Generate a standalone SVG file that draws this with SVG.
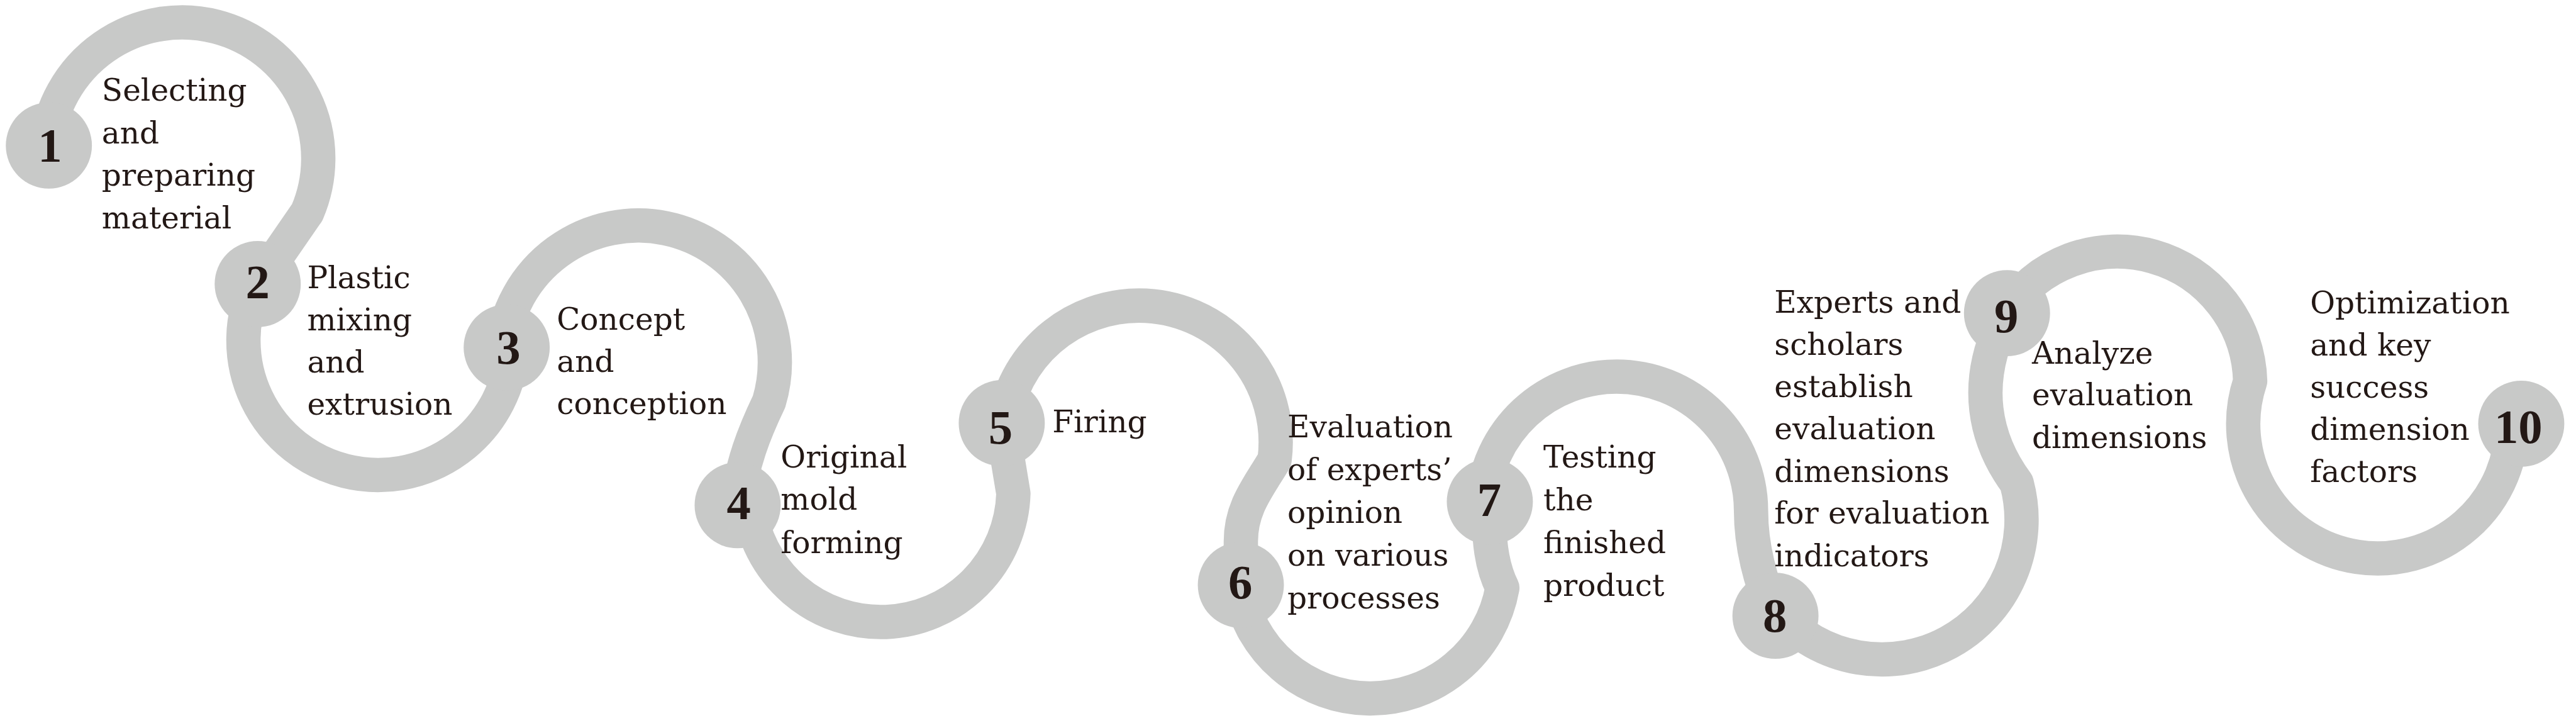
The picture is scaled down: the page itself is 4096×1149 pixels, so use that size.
<svg xmlns="http://www.w3.org/2000/svg" width="4096" height="1149" viewBox="0 0 4096 1149">
<style>
.link{fill:none;stroke:#c8c9c8;stroke-width:59;stroke-linejoin:round}
.dot{fill:#c8c9c8}
.num{font-family:"Liberation Serif","Times New Roman",serif;font-weight:bold;font-size:83px;fill:#231815;text-anchor:middle}
.lbl{font-family:"DejaVu Serif","Liberation Serif",serif;font-size:52.5px;fill:#231815}
</style>
<rect width="4096" height="1149" fill="#ffffff"/>
<g transform="scale(0.925)">
<g id="connectors">
<path id="c1-2" class="link" d="M84 250 L80.2 249.8 A234 234 0 1 1 528 365 L443 488"/>
<path id="c2-3" class="link" d="M443 488 L440.2 486.7 A231.5 231.5 0 1 0 881.1 597.4 L871 597"/>
<path id="c3-4" class="link" d="M871 597 L863.4 596.2 A235 235 0 1 1 1322 690 C1298 740 1273 800 1268 868"/>
<path id="c4-5" class="link" d="M1268 868 L1287.5 865.8 A228 228 0 0 0 1742 848 L1722 727"/>
<path id="c5-6" class="link" d="M1722 727 L1725.3 727.3 A235 235 0 0 1 1958 525 A235 235 0 0 1 2191 790 C2165 835 2133 870 2133 930 L2133 1005"/>
<path id="c6-7" class="link" d="M2133 1005 L2128.8 1005.6 A230 230 0 0 0 2582.5 1010 C2565 975 2557 930 2561 862"/>
<path id="c7-8" class="link" d="M2561 862 L2548.6 861 A231 231 0 0 1 2779 647 A231 231 0 0 1 3010 878 C3010 935 3025 1000 3052 1058"/>
<path id="c8-9" class="link" d="M3052 1058 L3056.7 1053.6 A240 240 0 0 0 3466.6 830 C3415 760 3385 660 3450 538"/>
<path id="c9-10" class="link" d="M3450 538 L3447.7 536.6 A228.5 228.5 0 0 1 3868 655 A231 231 0 1 0 4318 724 L4334 728"/>
</g>
<g id="node1"><circle class="dot" cx="84" cy="250" r="74"/><text class="num" x="86" y="278">1</text>
<text class="lbl"><tspan x="175" y="173">Selecting</tspan><tspan x="175" y="246">and</tspan><tspan x="175" y="319">preparing</tspan><tspan x="175" y="392">material</tspan></text></g>
<g id="node2"><circle class="dot" cx="443" cy="488" r="74"/><text class="num" x="443" y="512">2</text>
<text class="lbl"><tspan x="528" y="495">Plastic</tspan><tspan x="528" y="567.5">mixing</tspan><tspan x="528" y="640">and</tspan><tspan x="528" y="712.5">extrusion</tspan></text></g>
<g id="node3"><circle class="dot" cx="871" cy="597" r="74"/><text class="num" x="874" y="625">3</text>
<text class="lbl"><tspan x="957" y="566.5">Concept</tspan><tspan x="957" y="639">and</tspan><tspan x="957" y="711.5">conception</tspan></text></g>
<g id="node4"><circle class="dot" cx="1268" cy="868" r="74"/><text class="num" x="1270" y="892">4</text>
<text class="lbl"><tspan x="1342" y="803">Original</tspan><tspan x="1342" y="876">mold</tspan><tspan x="1342" y="950">forming</tspan></text></g>
<g id="node5"><circle class="dot" cx="1722" cy="727" r="74"/><text class="num" x="1720" y="762">5</text>
<text class="lbl"><tspan x="1809" y="743">Firing</tspan></text></g>
<g id="node6"><circle class="dot" cx="2133" cy="1005" r="74"/><text class="num" x="2132" y="1028">6</text>
<text class="lbl"><tspan x="2213" y="751">Evaluation</tspan><tspan x="2213" y="824.5">of experts’</tspan><tspan x="2213" y="898">opinion</tspan><tspan x="2213" y="972">on various</tspan><tspan x="2213" y="1045.5">processes</tspan></text></g>
<g id="node7"><circle class="dot" cx="2561" cy="862" r="74"/><text class="num" x="2560" y="887">7</text>
<text class="lbl"><tspan x="2653" y="803.5">Testing</tspan><tspan x="2653" y="877">the</tspan><tspan x="2653" y="950.5">finished</tspan><tspan x="2653" y="1024">product</tspan></text></g>
<g id="node8"><circle class="dot" cx="3052" cy="1058" r="74"/><text class="num" x="3051" y="1085">8</text>
<text class="lbl"><tspan x="3050" y="537">Experts and</tspan><tspan x="3050" y="610">scholars</tspan><tspan x="3050" y="682">establish</tspan><tspan x="3050" y="755">evaluation</tspan><tspan x="3050" y="828">dimensions</tspan><tspan x="3050" y="900">for evaluation</tspan><tspan x="3050" y="973">indicators</tspan></text></g>
<g id="node9"><circle class="dot" cx="3450" cy="538" r="74"/><text class="num" x="3449" y="571">9</text>
<text class="lbl"><tspan x="3493" y="624.5">Analyze</tspan><tspan x="3493" y="696">evaluation</tspan><tspan x="3493" y="769.5">dimensions</tspan></text></g>
<g id="node10"><circle class="dot" cx="4334" cy="728" r="74"/><text class="num" x="4329" y="761">10</text>
<text class="lbl"><tspan x="3971" y="538.5">Optimization</tspan><tspan x="3971" y="611">and key</tspan><tspan x="3971" y="683">success</tspan><tspan x="3971" y="756">dimension</tspan><tspan x="3971" y="828.5">factors</tspan></text></g>
</g>
</svg>
